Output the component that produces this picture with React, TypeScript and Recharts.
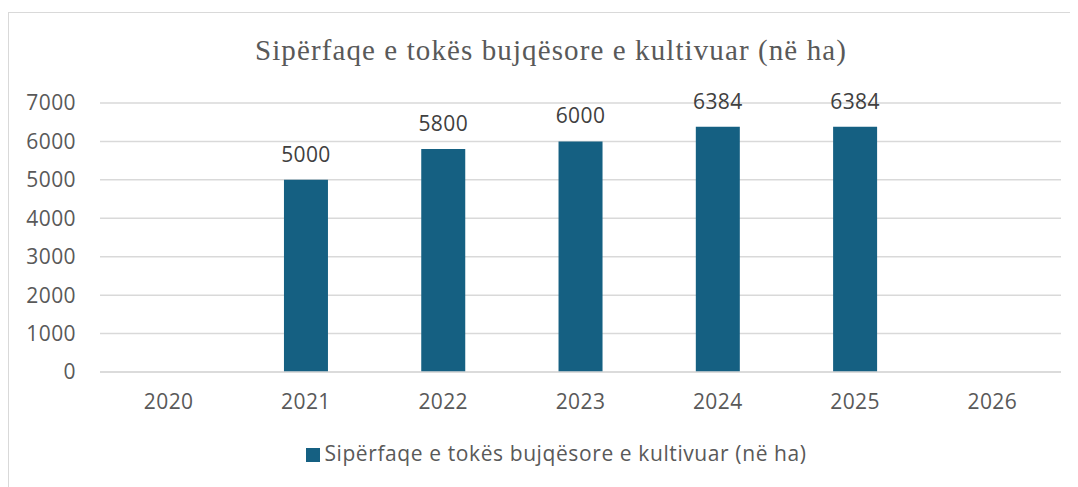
import { Bar, BarChart, CartesianGrid, LabelList, Legend, XAxis, YAxis } from "recharts";

const years = ["2020", "2021", "2022", "2023", "2024", "2025", "2026"];
const areaHa: (number | null)[] = [null, 5000, 5800, 6000, 6384, 6384, null];
const yTicks = [0, 1000, 2000, 3000, 4000, 5000, 6000, 7000];

const seriesName = "Sipërfaqe e tokës bujqësore e kultivuar (në ha)";
const data = years.map((year, i) => ({ year, value: areaHa[i] }));

const sans = "'Open Sans', 'Liberation Sans', sans-serif";
const tickStyle = { fill: "#595959", fontSize: 21, fontFamily: sans, letterSpacing: 0.4 };

export default function App() {
  return (
    <div style={{ position: "relative", width: 1070, height: 479, overflow: "hidden", background: "#fff" }}>
      <div
        style={{
          position: "absolute",
          left: 0,
          top: 4,
          width: 1200,
          height: 600,
          border: "1px solid #d9d9d9",
        }}
      />
      <div
        style={{
          position: "absolute",
          top: 28,
          left: 0,
          width: 1086,
          textAlign: "center",
          fontFamily: "'Liberation Serif', 'Times New Roman', serif",
          fontSize: 29,
          lineHeight: "28px",
          letterSpacing: 1.1,
          color: "#595959",
        }}
      >
        {seriesName}
      </div>
      <div style={{ position: "absolute", left: 0, top: 0 }}>
        <BarChart width={1070} height={479} data={data} margin={{ top: 95, right: 17, left: 22, bottom: 22 }} barCategoryGap="34%">
          <CartesianGrid vertical={false} stroke="#d9d9d9" strokeWidth={1.5} />
          <XAxis
            dataKey="year"
            axisLine={{ stroke: "#d9d9d9", strokeWidth: 1.5 }}
            tickLine={false}
            tickMargin={16}
            height={69}
            tick={tickStyle}
          />
          <YAxis
            domain={[0, 7000]}
            ticks={yTicks}
            axisLine={false}
            tickLine={false}
            tickMargin={18}
            width={70}
            tick={tickStyle}
          />
          <Legend
            verticalAlign="bottom"
            iconType="square"
            iconSize={14}
            wrapperStyle={{ left: 38, height: 24, lineHeight: "24px", fontFamily: sans, fontSize: 21, letterSpacing: 0.6 }}
            formatter={(v) => <span style={{ color: "#595959" }}>{v}</span>}
          />
          <Bar dataKey="value" name={seriesName} fill="#156082" isAnimationActive={false}>
            <LabelList
              dataKey="value"
              position="top"
              offset={18}
              fill="#404040"
              fontSize={21}
              fontFamily={sans}
              letterSpacing={0.4}
            />
          </Bar>
        </BarChart>
      </div>
    </div>
  );
}
